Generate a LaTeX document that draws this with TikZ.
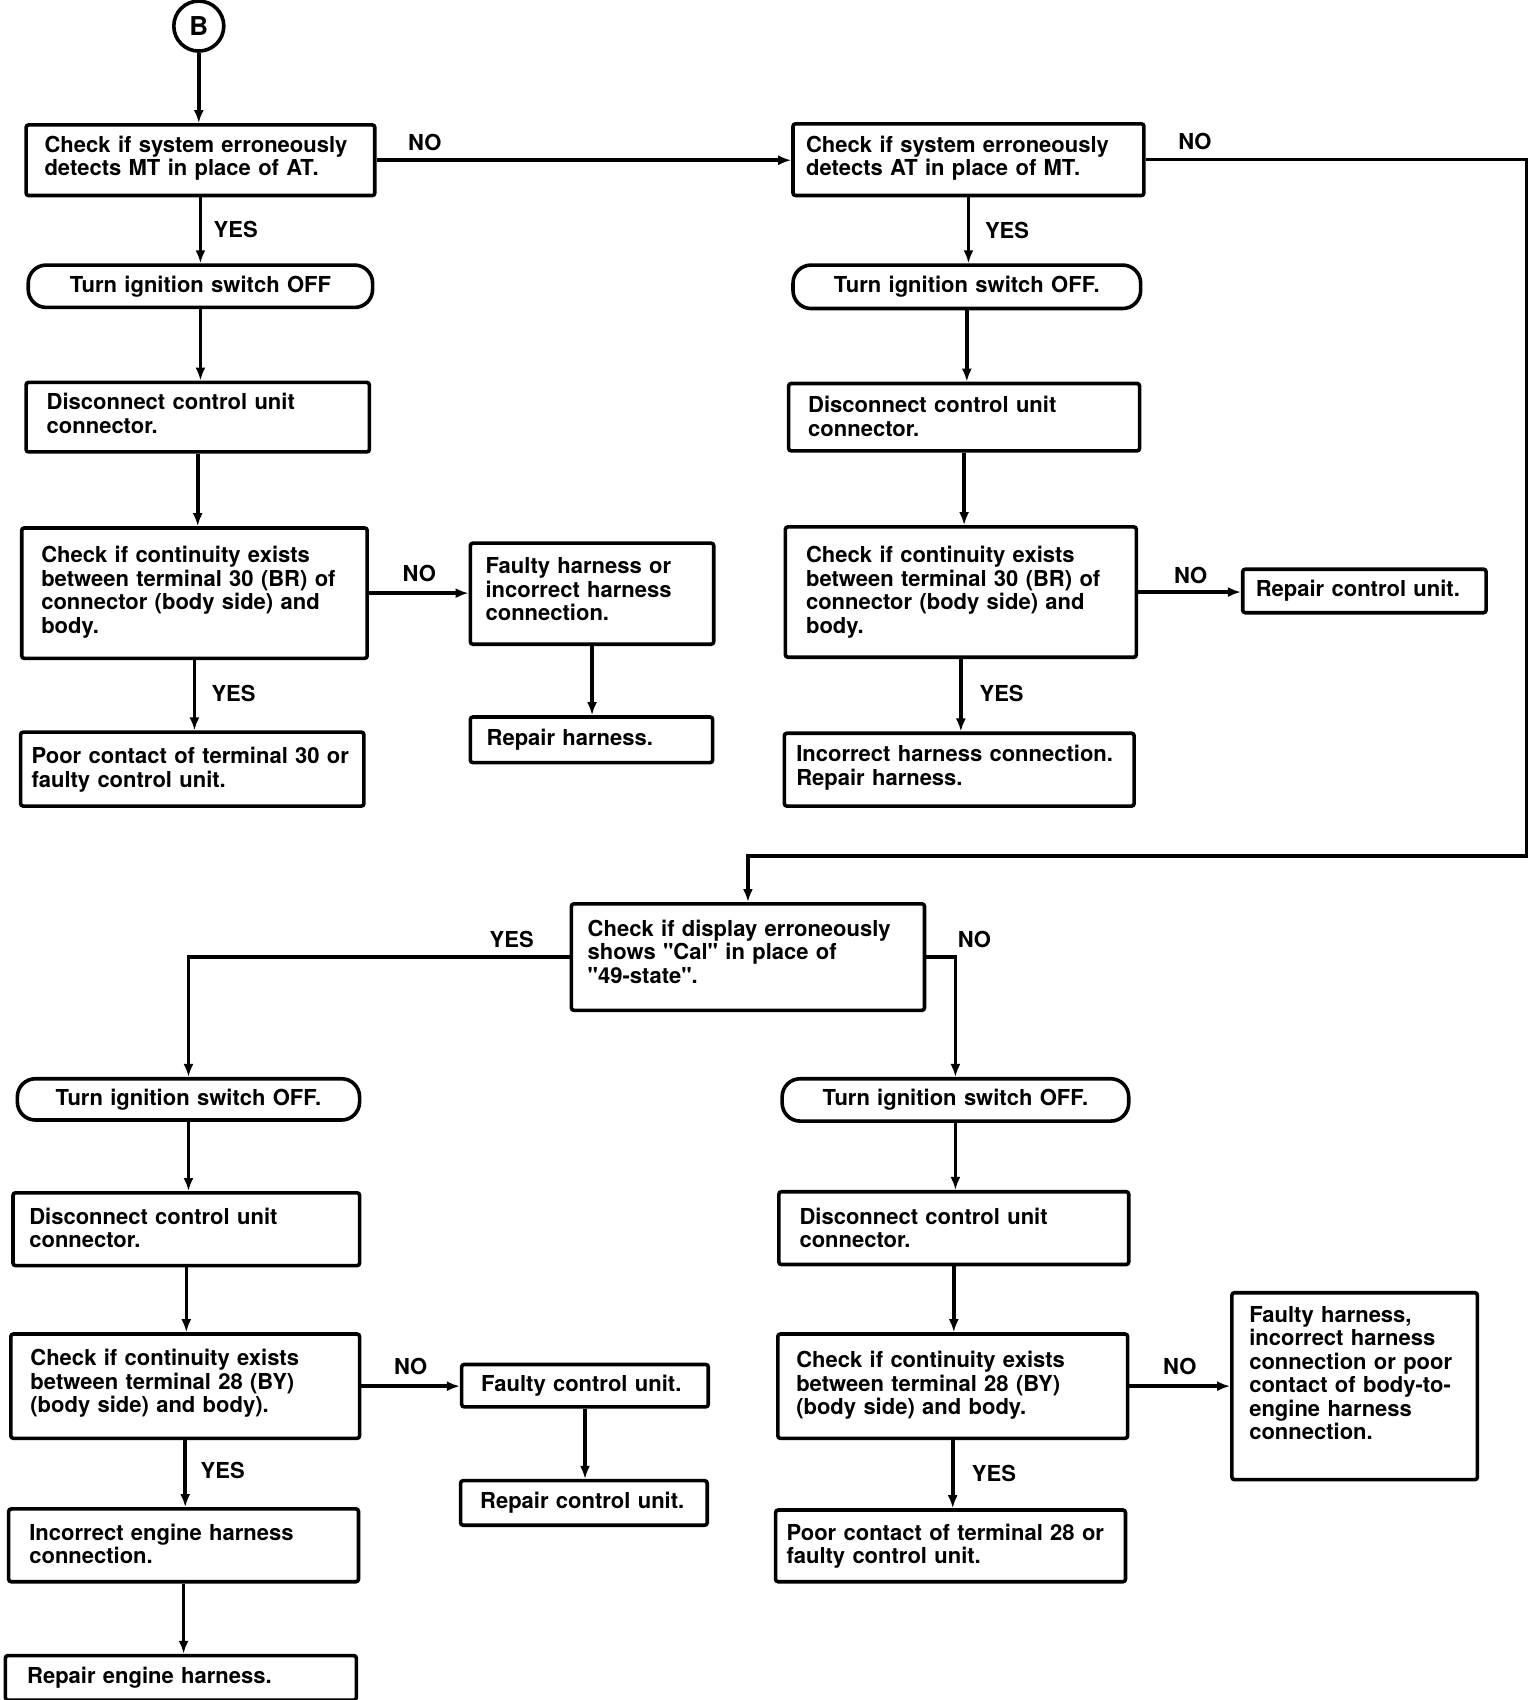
\documentclass[tikz,border=0pt]{standalone}
\usepackage{fontspec}
\setmainfont{TeX Gyre Heros}
\newfontfamily\helv{TeX Gyre Heros}
\usetikzlibrary{arrows.meta,calc}
\newcommand\mybox[8]{%
 \pgfmathsetmacro\bw{(#5-#3)*1.0863}%
 \pgfmathsetmacro\bh{(#6-#4)*1.0863}%
 \pgfmathsetmacro\bcx{(#3+#5)/2}%
 \pgfmathsetmacro\bcy{(#4+#6)/2}%
 \pgfmathsetmacro\btw{\bw-2*#7*1.0863}%
 \node[#2, minimum width=\bw pt, minimum height=\bh pt, text width=\btw pt] (#1) at (\bcx,\bcy) {#8};}
\newcommand\mylab[4]{\node[lbl] (#1) at (#2,#3) {#4};}
\begin{document}
\begin{tikzpicture}[x=1.0863pt,y=-1.0863pt,
 every node/.style={font=\helv\fontsize{22}{23.5}\selectfont\bfseries},
 box/.style={draw, line width=3.6pt, rounded corners=2.5pt, inner xsep=0pt, inner ysep=0pt, align=left},
 tb/.style={box, text height=16pt, text depth=#1},
 pill/.style={draw, line width=3.6pt, rounded corners=18pt, inner xsep=0pt, inner ysep=0pt, align=center},
 arr/.style={line width=3.6pt, -{Latex[length=13pt,width=10pt]}},
 lbl/.style={inner sep=0pt}]
\useasboundingbox (0,0) rectangle (1413.97,1564.9);

\node[circle, draw, line width=3.6pt, minimum size=50pt, inner sep=0pt, font=\helv\fontsize{26}{28}\selectfont\bfseries] (B) at (183,24) {B};

% left top column
\mybox{b1}{tb=32.3pt}{24}{115}{345}{180}{17}{Check if system erroneously\\detects MT in place of AT.}
\mybox{t1}{pill}{26}{244}{343}{283}{6}{Turn ignition switch OFF}
\mybox{d1}{tb=31.2pt}{24}{352}{340}{416}{19}{Disconnect control unit\\connector.}
\mybox{c1}{tb=76.8pt}{20}{486}{338}{606}{18}{Check if continuity exists\\between terminal 30 (BR) of\\connector (body side) and\\body.}
\mybox{f1}{tb=56.2pt}{433}{500}{657}{593}{14}{Faulty harness or\\incorrect harness\\connection.}
\mybox{r1}{box}{433}{660}{656}{702}{15}{Repair harness.}
\mybox{p1}{tb=26.9pt}{19}{674}{335}{742}{10}{Poor contact of terminal 30 or\\faulty control unit.}

% right top column
\mybox{b2}{tb=31.2pt}{730}{114}{1053}{180}{12}{Check if system erroneously\\detects AT in place of MT.}
\mybox{t2}{pill}{730}{244}{1050}{284}{6}{Turn ignition switch OFF.}
\mybox{d2}{tb=24.7pt}{726}{353}{1049}{415}{18}{Disconnect control unit\\connector.}
\mybox{c2}{tb=74.7pt}{723}{485}{1046}{605}{19}{Check if continuity exists\\between terminal 30 (BR) of\\connector (body side) and\\body.}
\mybox{rc2}{box}{1144}{524}{1368}{564}{12}{Repair control unit.}
\mybox{i2}{tb=32.3pt}{722}{675}{1044}{742}{11}{Incorrect harness connection.\\Repair harness.}

% middle
\mybox{m}{tb=57.3pt}{526}{832}{851}{930}{15}{Check if display erroneously\\shows "Cal" in place of\\"49-state".}

% bottom left column
\mybox{t3}{pill}{16}{993}{331}{1031}{6}{Turn ignition switch OFF.}
\mybox{d3}{tb=25.8pt}{12}{1098}{331}{1165}{15}{Disconnect control unit\\connector.}
\mybox{c3}{tb=57.3pt}{10}{1228}{331}{1324}{18}{Check if continuity exists\\between terminal 28 (BY)\\(body side) and body).}
\mybox{fc3}{box}{425}{1256}{652}{1295}{18}{Faulty control unit.}
\mybox{rc3}{box}{424}{1363}{651}{1404}{18}{Repair control unit.}
\mybox{i3}{tb=25.8pt}{8}{1389}{330}{1456}{19}{Incorrect engine harness\\connection.}
\mybox{re3}{box}{5}{1524}{328}{1565}{20}{Repair engine harness.}

% bottom right column
\mybox{t4}{pill}{720}{993}{1039}{1032}{6}{Turn ignition switch OFF.}
\mybox{d4}{tb=23.6pt}{717}{1097}{1039}{1164}{19}{Disconnect control unit\\connector.}
\mybox{c4}{tb=52.9pt}{716}{1228}{1038}{1324}{17}{Check if continuity exists\\between terminal 28 (BY)\\(body side) and body.}
\mybox{fh4}{tb=144.2pt}{1134}{1190}{1360}{1362}{16}{Faulty harness,\\incorrect harness\\connection or poor\\contact of body-to-\\engine harness\\connection.}
\mybox{p4}{tb=26.9pt}{714}{1390}{1036}{1456}{10}{Poor contact of terminal 28 or\\faulty control unit.}

% labels
\mylab{no1}{391}{131}{NO}
\mylab{no2}{1100}{130}{NO}
\mylab{yes1}{217}{211}{YES}
\mylab{yes2}{927}{212}{YES}
\mylab{no3}{386}{528}{NO}
\mylab{yes3}{215}{638}{YES}
\mylab{no4}{1096}{530}{NO}
\mylab{yes4}{922}{638}{YES}
\mylab{yes5}{471}{865}{YES}
\mylab{no5}{897}{865}{NO}
\mylab{no6}{378}{1258}{NO}
\mylab{yes6}{205}{1354}{YES}
\mylab{no7}{1086}{1258}{NO}
\mylab{yes7}{915}{1356}{YES}

% connectors
\coordinate (rt) at (1405,788);
\draw[arr] (B) -- (B |- b1.north);
\draw[arr] (b1.east) -- (b1.east -| b2.west);
\draw[arr] (b2.east) -| (rt) -| (m.north);
\draw[arr] (b1.south) -- (b1.south |- t1.north);
\draw[arr] (t1.south) -- (t1.south |- d1.north);
\draw[arr] (d1.south) -- (d1.south |- c1.north);
\draw[arr] (c1.east) -- (c1.east -| f1.west);
\draw[arr] (f1.south) -- (f1.south |- r1.north);
\draw[arr] (c1.south) -- (c1.south |- p1.north);

\draw[arr] (b2.south) -- (b2.south |- t2.north);
\draw[arr] (t2.south) -- (t2.south |- d2.north);
\draw[arr] (d2.south) -- (d2.south |- c2.north);
\draw[arr] (c2.east) -- (c2.east -| rc2.west);
\draw[arr] (c2.south) -- (c2.south |- i2.north);

\draw[arr] (m.west) -| (t3.north);
\draw[arr] (m.east) -| (t4.north);

\draw[arr] (t3.south) -- (t3.south |- d3.north);
\draw[arr] (d3.south) -- (d3.south |- c3.north);
\draw[arr] (c3.east) -- (c3.east -| fc3.west);
\draw[arr] (fc3.south) -- (fc3.south |- rc3.north);
\draw[arr] (c3.south) -- (c3.south |- i3.north);
\draw[arr] (i3.south) -- (i3.south |- re3.north);

\draw[arr] (t4.south) -- (t4.south |- d4.north);
\draw[arr] (d4.south) -- (d4.south |- c4.north);
\draw[arr] (c4.east) -- (c4.east -| fh4.west);
\draw[arr] (c4.south) -- (c4.south |- p4.north);
\end{tikzpicture}
\end{document}
